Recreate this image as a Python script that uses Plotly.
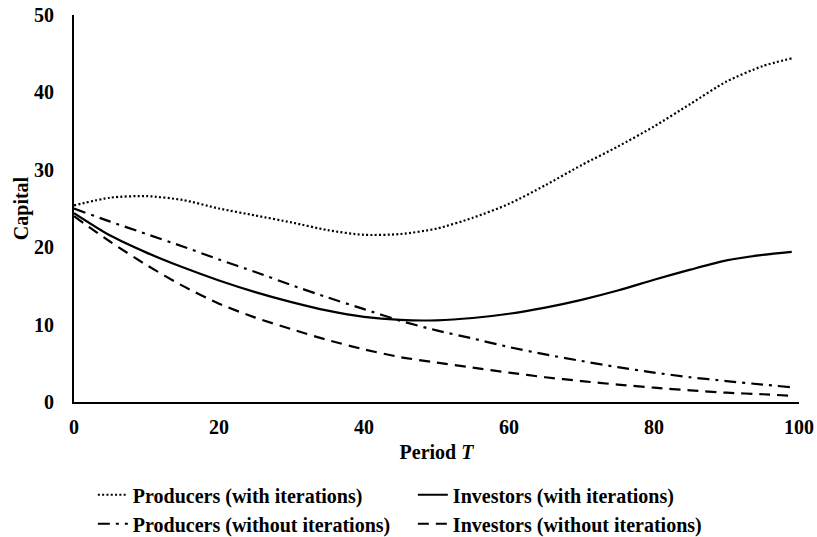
import plotly.graph_objects as go

periods = [0, 5, 10, 15, 20, 25, 30, 35, 40, 45, 50, 55, 60, 65, 70, 75, 80, 85, 90, 95, 99]

producers_with = [25.4, 26.4, 26.6, 26.1, 25.0, 24.1, 23.2, 22.2, 21.6, 21.7, 22.4,
                  23.8, 25.6, 28.0, 30.6, 33.0, 35.6, 38.5, 41.4, 43.4, 44.4]
investors_with = [24.4, 21.5, 19.3, 17.4, 15.7, 14.2, 12.9, 11.8, 11.0, 10.6, 10.55,
                  10.85, 11.4, 12.2, 13.2, 14.4, 15.8, 17.1, 18.3, 19.0, 19.4]
producers_without = [25.0, 23.3, 21.7, 20.1, 18.4, 16.8, 15.1, 13.5, 12.0, 10.5, 9.25,
                     8.2, 7.1, 6.15, 5.3, 4.5, 3.8, 3.2, 2.7, 2.25, 1.9]
investors_without = [24.0, 20.7, 17.7, 15.0, 12.7, 10.9, 9.4, 8.0, 6.8, 5.8, 5.1,
                     4.45, 3.8, 3.2, 2.7, 2.25, 1.85, 1.5, 1.2, 1.0, 0.8]

names = ["Producers (with iterations)", "Investors (with iterations)",
         "Producers (without iterations)", "Investors (without iterations)"]

x_ticks = [0, 20, 40, 60, 80, 100]
y_ticks = [0, 10, 20, 30, 40, 50]

FONT = "Liberation Serif"

series = [
    (names[0], producers_with, "2px,2.3px"),
    (names[1], investors_with, "solid"),
    (names[2], producers_without, "12px,6px,3px,6px"),
    (names[3], investors_without, "11px,7px"),
]

fig = go.Figure()
for name, vals, dash in series:
    fig.add_trace(go.Scatter(
        x=periods, y=vals, name=name, mode="lines",
        line=dict(color="black", width=2.2, dash=dash, shape="spline", smoothing=0.7),
    ))

fig.update_layout(
    width=817, height=537,
    margin=dict(l=74, r=18, t=15, b=135, autoexpand=False),
    plot_bgcolor="white", paper_bgcolor="white",
    font=dict(family=FONT, size=20, color="black", weight="bold"),
    showlegend=True,
    legend=dict(
        orientation="h", x=0.026, xanchor="left",
        yref="container", y=0.115, yanchor="top",
        entrywidth=275, entrywidthmode="pixels",
        font=dict(family=FONT, size=20, color="black", weight="bold"),
        bgcolor="rgba(0,0,0,0)", traceorder="normal",
    ),
    xaxis=dict(
        range=[0, 100], tickvals=x_ticks, showgrid=False, zeroline=False,
        showline=True, linecolor="black", linewidth=2, automargin=False,
        ticks="", ticklabelstandoff=6,
        tickfont=dict(family=FONT, size=20, color="black", weight="bold"),
        title=dict(text="Period <i>T</i>", standoff=8,
                   font=dict(family=FONT, size=20, color="black", weight="bold")),
    ),
    yaxis=dict(
        range=[0, 50], tickvals=y_ticks, showgrid=False, zeroline=False,
        showline=True, linecolor="black", linewidth=2, automargin=False,
        ticks="", ticklabelstandoff=14,
        tickfont=dict(family=FONT, size=20, color="black", weight="bold"),
        title=dict(text="Capital", standoff=0,
                   font=dict(family=FONT, size=20, color="black", weight="bold")),
    ),
)

fig.write_html("out.html")
